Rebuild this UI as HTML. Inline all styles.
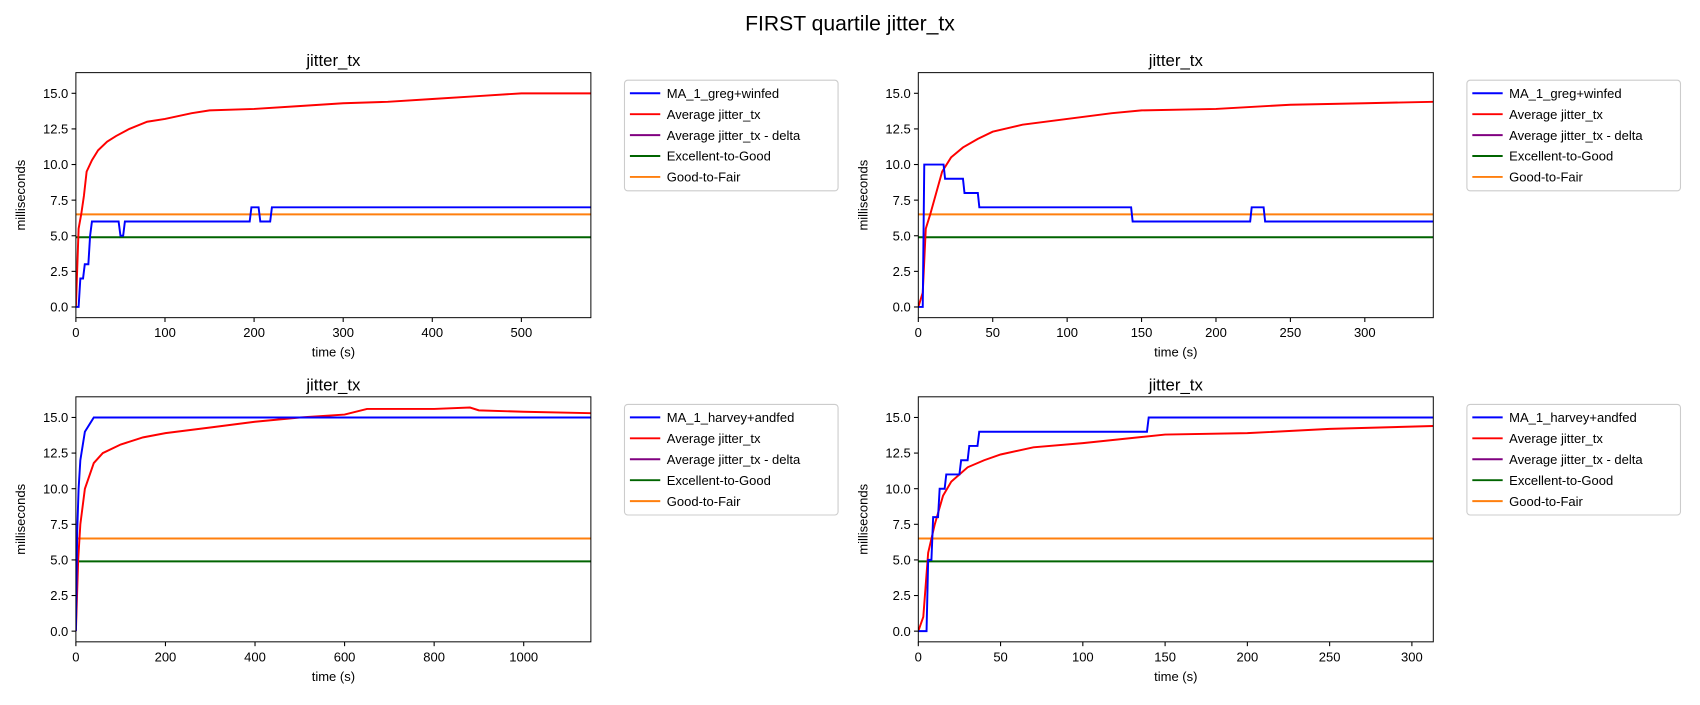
<!DOCTYPE html>
<html><head><meta charset="utf-8"><style>
body{margin:0;background:#fff;}
svg text{font-family:"Liberation Sans","DejaVu Sans",sans-serif;}
</style></head><body>
<svg width="1700" height="700" xmlns="http://www.w3.org/2000/svg">
<rect width="1700" height="700" fill="#fff"/>
<g id="fig" transform="scale(1.08418)">
<text x="784" y="28" font-size="19.5" text-anchor="middle">FIRST quartile jitter_tx</text>
</g>
</svg>
<script>
const p1BlueX=[0,3,5,8,10,14,16,18,48,50,53,55,195,197,205,207,218,220,578];
const p1BlueY=[0,0,2,2,3,3,5,6,6,5,5,6,6,7,7,6,6,7,7];
const p1RedX=[0,3,6,9,12,18,25,35,45,60,80,100,130,150,200,250,300,350,400,450,500,578];
const p1RedY=[0,5.5,6.5,7.8,9.5,10.3,11,11.6,12,12.5,13,13.2,13.6,13.8,13.9,14.1,14.3,14.4,14.6,14.8,15,15];
const p2BlueX=[0,3,4,17,18,30,31,40,41,143,144,223,224,232,233,346];
const p2BlueY=[0,0,10,10,9,9,8,8,7,7,6,6,7,7,6,6];
const p2RedX=[0,3,5,8,12,16,22,30,40,50,70,100,130,150,200,250,300,346];
const p2RedY=[0,1,5.5,6.5,8,9.5,10.5,11.2,11.8,12.3,12.8,13.2,13.6,13.8,13.9,14.2,14.3,14.4];
const p3BlueX=[0,3,6,10,15,20,40,1150];
const p3BlueY=[0,7,10,12,13,14,15,15];
const p3RedX=[0,5,10,20,40,60,100,150,200,300,400,500,600,650,800,880,900,1000,1150];
const p3RedY=[0,5,7.5,10,11.8,12.5,13.1,13.6,13.9,14.3,14.7,15,15.2,15.6,15.6,15.7,15.5,15.4,15.3];
const p4BlueX=[0,5,6,8,9,12,13,16,17,25,26,30,31,36,37,139,140,313];
const p4BlueY=[0,0,5,5,8,8,10,10,11,11,12,12,13,13,14,14,15,15];
const p4RedX=[0,3,6,10,15,20,30,40,50,70,100,150,200,250,313];
const p4RedY=[0,1,5.5,7.5,9.5,10.5,11.5,12,12.4,12.9,13.2,13.8,13.9,14.2,14.4];
const yTicks=[0,2.5,5,7.5,10,12.5,15];
const yTickLabels=["0.0","2.5","5.0","7.5","10.0","12.5","15.0"];
const thrExcellent=4.9, thrGood=6.5;
const NS="http://www.w3.org/2000/svg";
const svg=document.getElementById('fig');
function mk(t,a,parent){const e=document.createElementNS(NS,t);for(const k in a)e.setAttribute(k,a[k]);(parent||svg).appendChild(e);return e;}
function panel(id,L,T,xmax,xticks,bx,by,rx,ry,blueName){
  const W=475,H=226,R=L+W,B=T+H,ymin=-0.75,ymax=16.45;
  const sx=v=>L+v/xmax*W, sy=v=>B-(v-ymin)/(ymax-ymin)*H;
  const g=mk('g',{});
  
  
  const clipId='c'+id;
  const cp=mk('clipPath',{id:clipId},g);mk('rect',{x:L,y:T,width:W,height:H},cp);
  const t=mk('text',{x:L+W/2,y:T-6,'font-size':15.5,'text-anchor':'middle'},g);t.textContent='jitter_tx';
  
  const pl=mk('g',{'clip-path':'url(#'+clipId+')'},g);
  function line(xs,ys,c,name){const d=xs.map((x,i)=>(i?'L':'M')+sx(x).toFixed(1)+','+sy(ys[i]).toFixed(1)).join('');
    const p=mk('path',{d:d,fill:'none',stroke:c,'stroke-width':1.8},pl);}
  line([0,xmax],[thrExcellent,thrExcellent],'#006400','excellent-to-good-line');
  line([0,xmax],[thrGood,thrGood],'#ff7f0e','good-to-fair-line');
  line(rx,ry,'#ff0000','average-line');
  line(bx,by,'#0000ff','ma-line');
  mk('rect',{x:L,y:T,width:W,height:H,fill:'none',stroke:'#000','stroke-width':0.9},g);
  xticks.forEach(v=>{const x=sx(v);mk('line',{x1:x,x2:x,y1:B,y2:B+4,stroke:'#000'},g);
    const tx=mk('text',{x:x,y:B+18,'font-size':12,'text-anchor':'middle'},g);tx.textContent=v;
    });
  yTicks.forEach((v,i)=>{const y=sy(v);mk('line',{x1:L-4,x2:L,y1:y,y2:y,stroke:'#000'},g);
    const ty=mk('text',{x:L-7,y:y+4.3,'font-size':12,'text-anchor':'end'},g);ty.textContent=yTickLabels[i];
    });
  const xl=mk('text',{x:L+W/2,y:B+36,'font-size':12,'text-anchor':'middle'},g);xl.textContent='time (s)';
  
  const yl=mk('text',{x:0,y:0,'font-size':12,'text-anchor':'middle',transform:`translate(${L-47},${T+H/2}) rotate(-90)`},g);yl.textContent='milliseconds';
  
  const lg=mk('g',{},g);
  const lx=R+31,ly=T+7;
  mk('rect',{x:lx,y:ly,width:197,height:102,fill:'#fff',stroke:'#ccc',rx:3},lg);
  const items=[[blueName,'#0000ff'],['Average jitter_tx','#ff0000'],['Average jitter_tx - delta','#800080'],['Excellent-to-Good','#006400'],['Good-to-Fair','#ff7f0e']];
  items.forEach((it,i)=>{const y=ly+12+i*19.3;
    mk('line',{x1:lx+5,x2:lx+33,y1:y,y2:y,stroke:it[1],'stroke-width':1.8},lg);
    const tt=mk('text',{x:lx+39,y:y+4.3,'font-size':12},lg);tt.textContent=it[0];
    });
}
panel('panel-top-left',70,67,578,[0,100,200,300,400,500],p1BlueX,p1BlueY,p1RedX,p1RedY,'MA_1_greg+winfed');
panel('panel-top-right',847,67,346,[0,50,100,150,200,250,300],p2BlueX,p2BlueY,p2RedX,p2RedY,'MA_1_greg+winfed');
panel('panel-bottom-left',70,366,1150,[0,200,400,600,800,1000],p3BlueX,p3BlueY,p3RedX,p3RedY,'MA_1_harvey+andfed');
panel('panel-bottom-right',847,366,313,[0,50,100,150,200,250,300],p4BlueX,p4BlueY,p4RedX,p4RedY,'MA_1_harvey+andfed');
</script>
</body></html>
